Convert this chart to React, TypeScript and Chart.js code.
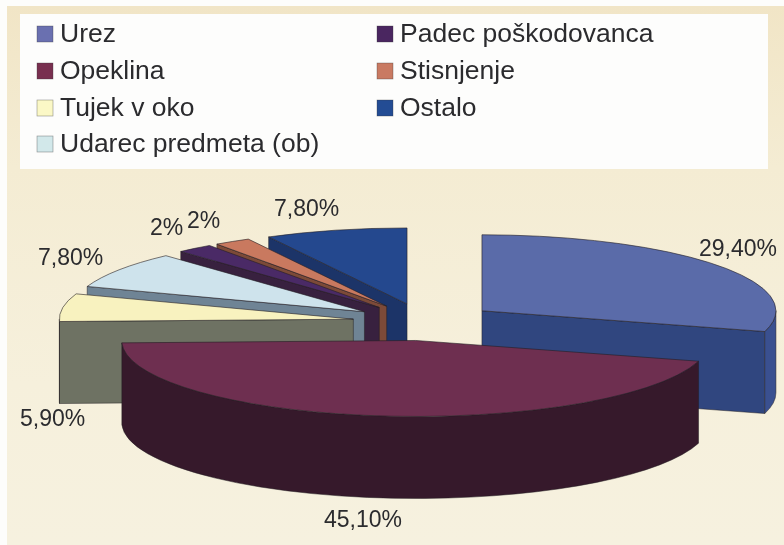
import React, { useEffect, useRef } from "react";
import { Chart, registerables } from "chart.js";

Chart.register(...registerables);

const categories = ["Urez", "Opeklina", "Tujek v oko", "Udarec predmeta (ob)", "Padec poškodovanca", "Stisnjenje", "Ostalo"];
const values = [29.4, 45.1, 5.9, 7.8, 2, 2, 7.8];
const valueLabels = ["29,40%", "45,10%", "5,90%", "7,80%", "2%", "2%", "7,80%"];

const faceColors = ["#5a6ba9", "#6e2f50", "#f8f2bf", "#cee3ec", "#4a2a66", "#c9795f", "#24488e"];
const swatchColors = ["#6a70b0", "#782f4f", "#fbf8c6", "#d2e8ea", "#4a2660", "#c97a62", "#234c94"];
const cutColors = ["#30467f", "#36192b", "#6e7263", "#6f8495", "#38213f", "#7c4a38", "#1c3468"];
const rimColors = ["#3a5090", "#36192b", "#6e7263", "#6f8495", "#38213f", "#7c4a38", "#1c3468"];

// back-to-front painting order of the slices (indices into categories)
const paintOrder = [6, 5, 4, 3, 2, 0, 1];

// layout only
const LABEL_POS: [number, number][] = [[699, 256], [324, 527], [20, 426], [38, 265], [150, 235], [187, 228], [274, 216]];
const LEGEND_POS: [number, number][] = [[37, 42], [37, 79], [37, 116], [37, 152], [377, 42], [377, 79], [377, 116]];
const CY = 322;
const SQUASH = 0.2585;
const EXPLODE = 72;
const DEPTH = 82;
const RADIUS = 294;

const threeD = {
  id: "threeD",
  beforeDraw(chart: any) {
    const { ctx, width, height } = chart;
    ctx.save();
    ctx.fillStyle = "#fdfdfb";
    ctx.fillRect(0, 0, width, height);
    const g = ctx.createLinearGradient(0, 6, 0, 545);
    g.addColorStop(0, "#f1e5c6");
    g.addColorStop(0.3, "#f4ecd3");
    g.addColorStop(0.7, "#f6f0dc");
    g.addColorStop(1, "#f6f1df");
    ctx.fillStyle = g;
    ctx.fillRect(7, 6, width - 7, height - 6);
    ctx.fillStyle = "#fdfdfc";
    ctx.fillRect(20, 14, 748, 155);
    ctx.font = "26.5px 'Liberation Sans', Arial, sans-serif";
    ctx.textBaseline = "alphabetic";
    categories.forEach((name, i) => {
      const [x, y] = LEGEND_POS[i];
      ctx.fillStyle = swatchColors[i];
      ctx.fillRect(x, y - 16, 16, 16);
      ctx.strokeStyle = "rgba(60,60,60,0.55)";
      ctx.lineWidth = 0.6;
      ctx.strokeRect(x, y - 16, 16, 16);
      ctx.fillStyle = "#2b2b2e";
      ctx.fillText(name, x + 23, y);
    });
    ctx.restore();
  },
  beforeDatasetDraw(chart: any, args: any) {
    const { ctx } = chart;
    const arcs = args.meta.data;
    for (const i of paintOrder) {
      const arc = arcs[i];
      const { startAngle: a0, endAngle: a1, outerRadius: r } = arc;
      const mid = (a0 + a1) / 2;
      const ex = arc.x + Math.cos(mid) * EXPLODE;
      const ey = CY + Math.sin(mid) * EXPLODE * SQUASH;
      const px = (a: number) => ex + Math.cos(a) * r;
      const py = (a: number) => ey + Math.sin(a) * r * SQUASH;
      const edge = "rgba(35,30,35,0.7)";

      // cut planes that face the viewer
      const planes: number[] = [];
      if (Math.cos(a0) < 0) planes.push(a0);
      if (Math.cos(a1) > 0) planes.push(a1);
      for (const a of planes) {
        ctx.save();
        ctx.fillStyle = cutColors[i];
        ctx.strokeStyle = edge;
        ctx.lineWidth = 0.7;
        ctx.beginPath();
        ctx.moveTo(ex, ey);
        ctx.lineTo(px(a), py(a));
        ctx.lineTo(px(a), py(a) + DEPTH);
        ctx.lineTo(ex, ey + DEPTH);
        ctx.closePath();
        ctx.fill();
        ctx.stroke();
        ctx.restore();
      }

      // outer rim: only the part of the arc on the near side of the ellipse
      const norm = (a: number) => a;
      const from = Math.max(norm(a0), 0);
      const to = Math.min(norm(a1), Math.PI);
      if (to > from) {
        ctx.save();
        ctx.fillStyle = rimColors[i];
        ctx.strokeStyle = edge;
        ctx.lineWidth = 0.7;
        ctx.beginPath();
        ctx.ellipse(ex, ey, r, r * SQUASH, 0, from, to);
        ctx.ellipse(ex, ey + DEPTH, r, r * SQUASH, 0, to, from, true);
        ctx.closePath();
        ctx.fill();
        ctx.stroke();
        ctx.restore();
      }

      // top face: the library's own arc, squashed and moved
      ctx.save();
      ctx.translate(Math.cos(mid) * EXPLODE, CY + Math.sin(mid) * EXPLODE * SQUASH);
      ctx.scale(1, SQUASH);
      ctx.translate(0, -arc.y);
      arc.draw(ctx);
      ctx.restore();

      // face outline
      ctx.save();
      ctx.strokeStyle = "rgba(35,30,35,0.75)";
      ctx.lineWidth = 0.8;
      ctx.beginPath();
      ctx.moveTo(ex, ey);
      ctx.ellipse(ex, ey, r, r * SQUASH, 0, a0, a1);
      ctx.closePath();
      ctx.stroke();
      ctx.restore();
    }
    return false;
  },
  afterDraw(chart: any) {
    const { ctx } = chart;
    ctx.save();
    ctx.font = "23px 'Liberation Sans', Arial, sans-serif";
    ctx.fillStyle = "#2b2b2e";
    ctx.textBaseline = "alphabetic";
    valueLabels.forEach((t, i) => ctx.fillText(t, LABEL_POS[i][0], LABEL_POS[i][1]));
    ctx.restore();
  },
};

export default function App() {
  const ref = useRef<HTMLCanvasElement>(null);
  useEffect(() => {
    const chart = new Chart(ref.current!, {
      type: "pie",
      data: {
        labels: categories,
        datasets: [{ data: values, backgroundColor: faceColors, borderWidth: 0, offset: 0, clip: false } as any],
      },
      options: {
        responsive: false,
        animation: false,
        radius: RADIUS,
        layout: { padding: { left: 65 } },
        plugins: { legend: { display: false }, tooltip: { enabled: false } },
      } as any,
      plugins: [threeD],
    });
    return () => chart.destroy();
  }, []);
  return (
    <div style={{ position: "fixed", left: 0, top: 0, width: 784, height: 545 }}>
      <canvas ref={ref} width={784} height={545} style={{ display: "block", filter: "blur(0.45px)" }} />
    </div>
  );
}
